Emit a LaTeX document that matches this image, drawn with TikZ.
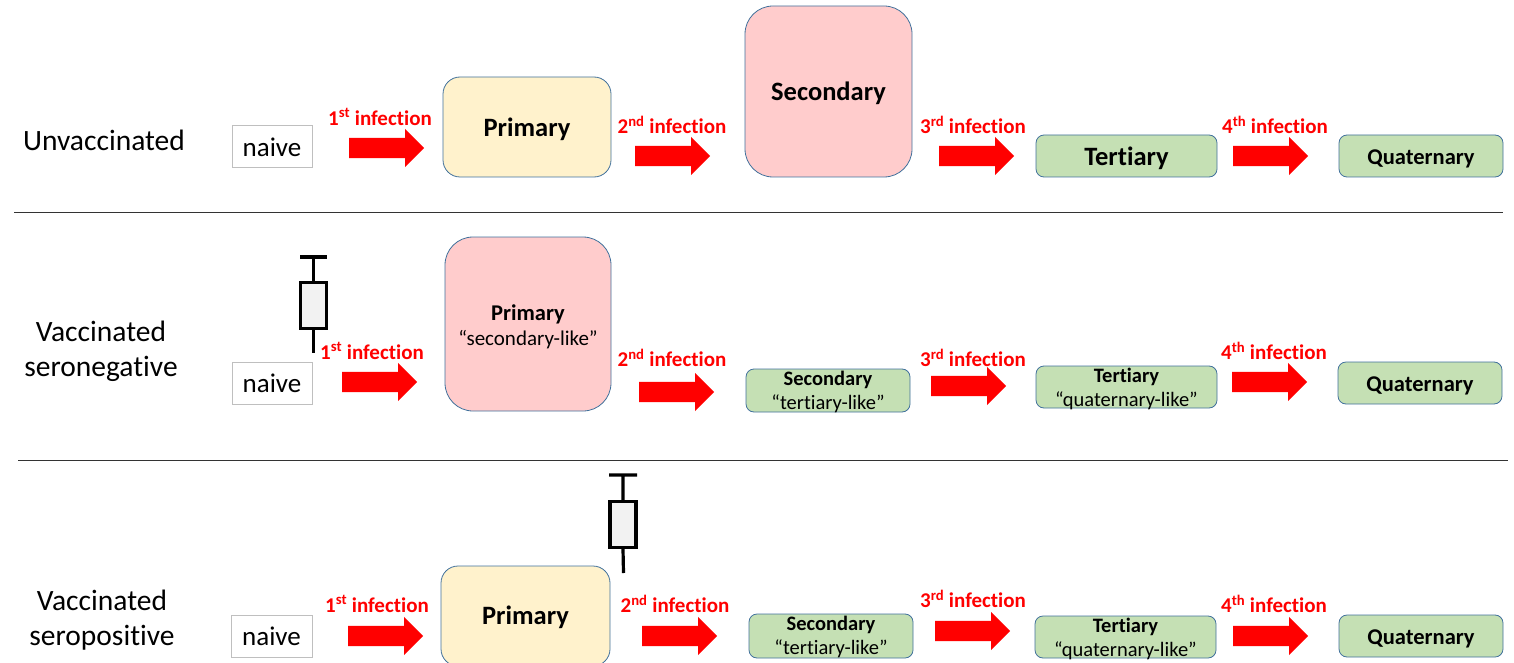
\documentclass[tikz,border=0pt]{standalone}
\usepackage{fontspec}
\setmainfont[Ligatures=CommonOff]{Carlito}
\usetikzlibrary{shapes.arrows}
\definecolor{boxline}{HTML}{41719C}
\definecolor{primfill}{HTML}{FFF2CC}
\definecolor{secfill}{HTML}{FFCCCC}
\definecolor{terfill}{HTML}{C5E0B4}
\definecolor{barrelfill}{HTML}{F2F2F2}
\newcommand{\fs}[1]{\fontsize{#1}{24}\selectfont}
\newcommand{\dn}[2][2pt]{\raisebox{-#1}[\height][\depth]{#2}}
\tikzset{
	stage/.style={draw=boxline,line width=0.8pt,inner sep=0pt,align=center,text=black},
	primbox/.style={stage,fill=primfill,rounded corners=17pt,font=\fs{26.5}\bfseries},
	secbox/.style={stage,fill=secfill,rounded corners=28pt,font=\fs{26.5}\bfseries},
	terbox/.style={stage,fill=terfill,rounded corners=8pt,font=\fs{20.5}},
	naivebox/.style={draw=black!25,line width=1pt,minimum width=80pt,minimum height=42pt,inner sep=0pt,font=\fs{27}},
	rowlabel/.style={align=center,font=\fontsize{29.5}{35}\selectfont,inner sep=0pt},
	inflabel/.style={text=red,font=\fs{21}\bfseries,inner sep=0pt},
	infarrow/.style={single arrow,anchor=tail,fill=red,inner xsep=0pt,inner ysep=10pt,minimum height=75pt,minimum width=38pt,
		single arrow head extend=9pt,single arrow head indent=0pt},
	barrel/.style={draw=black,line width=3.2pt,fill=barrelfill,minimum width=26pt,minimum height=46pt,inner sep=0pt},
	plunger/.style={black,line width=3.2pt},
	divider/.style={black!80,line width=0.8pt}
}
\begin{document}
\begin{tikzpicture}[x=1pt,y=-1pt]
	\clip (0,0) rectangle (1514,663);
	
	% top row
	\node[rowlabel] (lab1) at (104,140) {Unvaccinated};
	\node[naivebox] (n1) at (272,147) {naive};
	\node[infarrow] (a11) at (349,148) {};
	\node[inflabel] (t11) at (380,117) {1\textsuperscript{st} infection};
	\node[primbox,minimum width=168pt,minimum height=100pt] (p1) at (527,127) {\dn{Primary}};
	\node[infarrow] (a12) at (635,156) {};
	\node[inflabel] (t12) at (672,125) {2\textsuperscript{nd} infection};
	\node[secbox,minimum width=167pt,minimum height=171pt] (s1) at (828.5,91.5) {\dn{Secondary}};
	\node[infarrow] (a13) at (939,156) {};
	\node[inflabel] (t13) at (973,125) {3\textsuperscript{rd} infection};
	\node[terbox,minimum width=181pt,minimum height=42pt,font=\fs{26.5}\bfseries] (r1) at (1126.5,156) {\dn{Tertiary}};
	\node[infarrow] (a14) at (1233,156) {};
	\node[inflabel] (t14) at (1275,125) {4\textsuperscript{th} infection};
	\node[terbox,minimum width=164pt,minimum height=42pt,font=\fs{22.5}\bfseries] (q1) at (1421,156) {\dn[3pt]{Quaternary}};
	
	\coordinate (d1a) at (14,212);
	\coordinate (d1b) at (1503,212);
	\draw[divider] (d1a) -- (d1b);
	
	% middle row
	\node[rowlabel] (lab2) at (101,351) {Vaccinated\\seronegative};
	\node[naivebox] (n2) at (272,383.5) {naive};
	\node[barrel] (b2) at (313.5,305.5) {};
	\coordinate (b2top) at (313.5,257);
	\coordinate (b2bot) at (313.5,353);
	\coordinate (b2l) at (300,257);
	\coordinate (b2r) at (327,257);
	\draw[plunger] (b2.north) -- (b2top) (b2l) -- (b2r) (b2.south) -- (b2bot);
	\node[infarrow] (a21) at (342,382) {};
	\node[inflabel] (t21) at (372,351) {1\textsuperscript{st} infection};
	\node[secbox,minimum width=166pt,minimum height=174pt,font=\fs{21}] (p2) at (528,324) {\dn{\fs{22.5}\textbf{Primary}}\\\dn[3pt]{“secondary-like”}};
	\node[infarrow] (a22) at (639,392) {};
	\node[inflabel] (t22) at (672,358) {2\textsuperscript{nd} infection};
	\node[terbox,minimum width=164pt,minimum height=43pt] (s2) at (828,390.5) {\dn[1pt]{\textbf{Secondary}}\\\dn[1pt]{“tertiary-like”}};
	\node[infarrow] (a23) at (931,386) {};
	\node[inflabel] (t23) at (973,358) {3\textsuperscript{rd} infection};
	\node[terbox,minimum width=181pt,minimum height=42pt] (r2) at (1126.5,387) {\dn{\textbf{Tertiary}}\\\dn{“quaternary-like”}};
	\node[infarrow] (a24) at (1232,382) {};
	\node[inflabel] (t24) at (1274,351) {4\textsuperscript{th} infection};
	\node[terbox,minimum width=164pt,minimum height=42pt,font=\fs{22.5}\bfseries] (q2) at (1420,383) {\dn[3pt]{Quaternary}};
	
	\coordinate (d2a) at (18,460);
	\coordinate (d2b) at (1508,460);
	\draw[divider] (d2a) -- (d2b);
	
	% bottom row
	\node[rowlabel] (lab3) at (102,620) {Vaccinated\\seropositive};
	\node[naivebox,minimum width=81pt] (n3) at (271.5,636) {naive};
	\node[barrel] (b3) at (623,524.5) {};
	\coordinate (b3top) at (623,475);
	\coordinate (b3bot) at (623.5,573);
	\coordinate (b3l) at (609,475);
	\coordinate (b3r) at (637,475);
	\draw[plunger] (b3.north) -- (b3top) (b3l) -- (b3r) (b3.south) -- (b3bot);
	\node[infarrow] (a31) at (348,636) {};
	\node[inflabel] (t31) at (377,604) {1\textsuperscript{st} infection};
	\node[primbox,minimum width=169pt,minimum height=100pt] (p3) at (525.5,616) {\dn[1pt]{Primary}};
	\node[infarrow] (a32) at (642,636) {};
	\node[inflabel] (t32) at (675,604) {2\textsuperscript{nd} infection};
	\node[terbox,minimum width=164pt,minimum height=44pt] (s3) at (831,636) {\dn[0.5pt]{\textbf{Secondary}}\\\dn[1pt]{“tertiary-like”}};
	\node[infarrow] (a33) at (935,631) {};
	\node[inflabel] (t33) at (973,599) {3\textsuperscript{rd} infection};
	\node[terbox,minimum width=181pt,minimum height=42pt] (r3) at (1125.5,637) {\dn{\textbf{Tertiary}}\\\dn{“quaternary-like”}};
	\node[infarrow] (a34) at (1233,636) {};
	\node[inflabel] (t34) at (1274,604) {4\textsuperscript{th} infection};
	\node[terbox,minimum width=164pt,minimum height=42pt,font=\fs{22.5}\bfseries] (q3) at (1421,636) {\dn[3pt]{Quaternary}};
\end{tikzpicture}
\end{document}
